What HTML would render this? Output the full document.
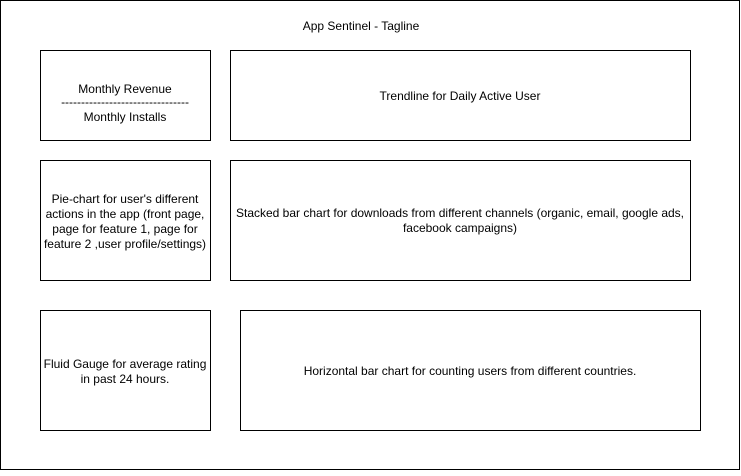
<!DOCTYPE html>
<html><head><meta charset="utf-8"><style>
html,body{margin:0;padding:0;background:#fff;}
svg text{font-family:"Liberation Sans",Arial,sans-serif;font-size:12px;fill:#000;}
</style></head><body>
<svg width="741" height="471" viewBox="0 0 741 471" xmlns="http://www.w3.org/2000/svg">
<g fill="none" stroke="#000" stroke-width="1">
<rect x="0.5" y="0.5" width="739" height="469"/>
<rect x="40.5" y="50.5" width="170" height="90"/>
<rect x="230.5" y="50.5" width="460" height="90"/>
<rect x="40.5" y="160.5" width="170" height="120"/>
<rect x="230.5" y="160.5" width="460" height="120"/>
<rect x="40.5" y="310.5" width="170" height="120"/>
<rect x="240.5" y="310.5" width="460" height="120"/>
</g>
<g text-anchor="middle">
<text x="361" y="30">App Sentinel - Tagline</text>
<text x="125" y="93">Monthly Revenue</text>
<text x="125" y="106">--------------------------------</text>
<text x="125" y="121">Monthly Installs</text>
<text x="460" y="100">Trendline for Daily Active User</text>
<text x="125" y="203">Pie-chart for user's different</text>
<text x="125" y="218">actions in the app (front page,</text>
<text x="125" y="233">page for feature 1, page for</text>
<text x="125" y="248">feature 2 ,user profile/settings)</text>
<text x="460" y="217">Stacked bar chart for downloads from different channels (organic, email, google ads,</text>
<text x="460" y="232">facebook campaigns)</text>
<text x="125" y="368">Fluid Gauge for average rating</text>
<text x="125" y="383">in past 24 hours.</text>
<text x="470" y="375">Horizontal bar chart for counting users from different countries.</text>
</g>
</svg>
</body></html>
